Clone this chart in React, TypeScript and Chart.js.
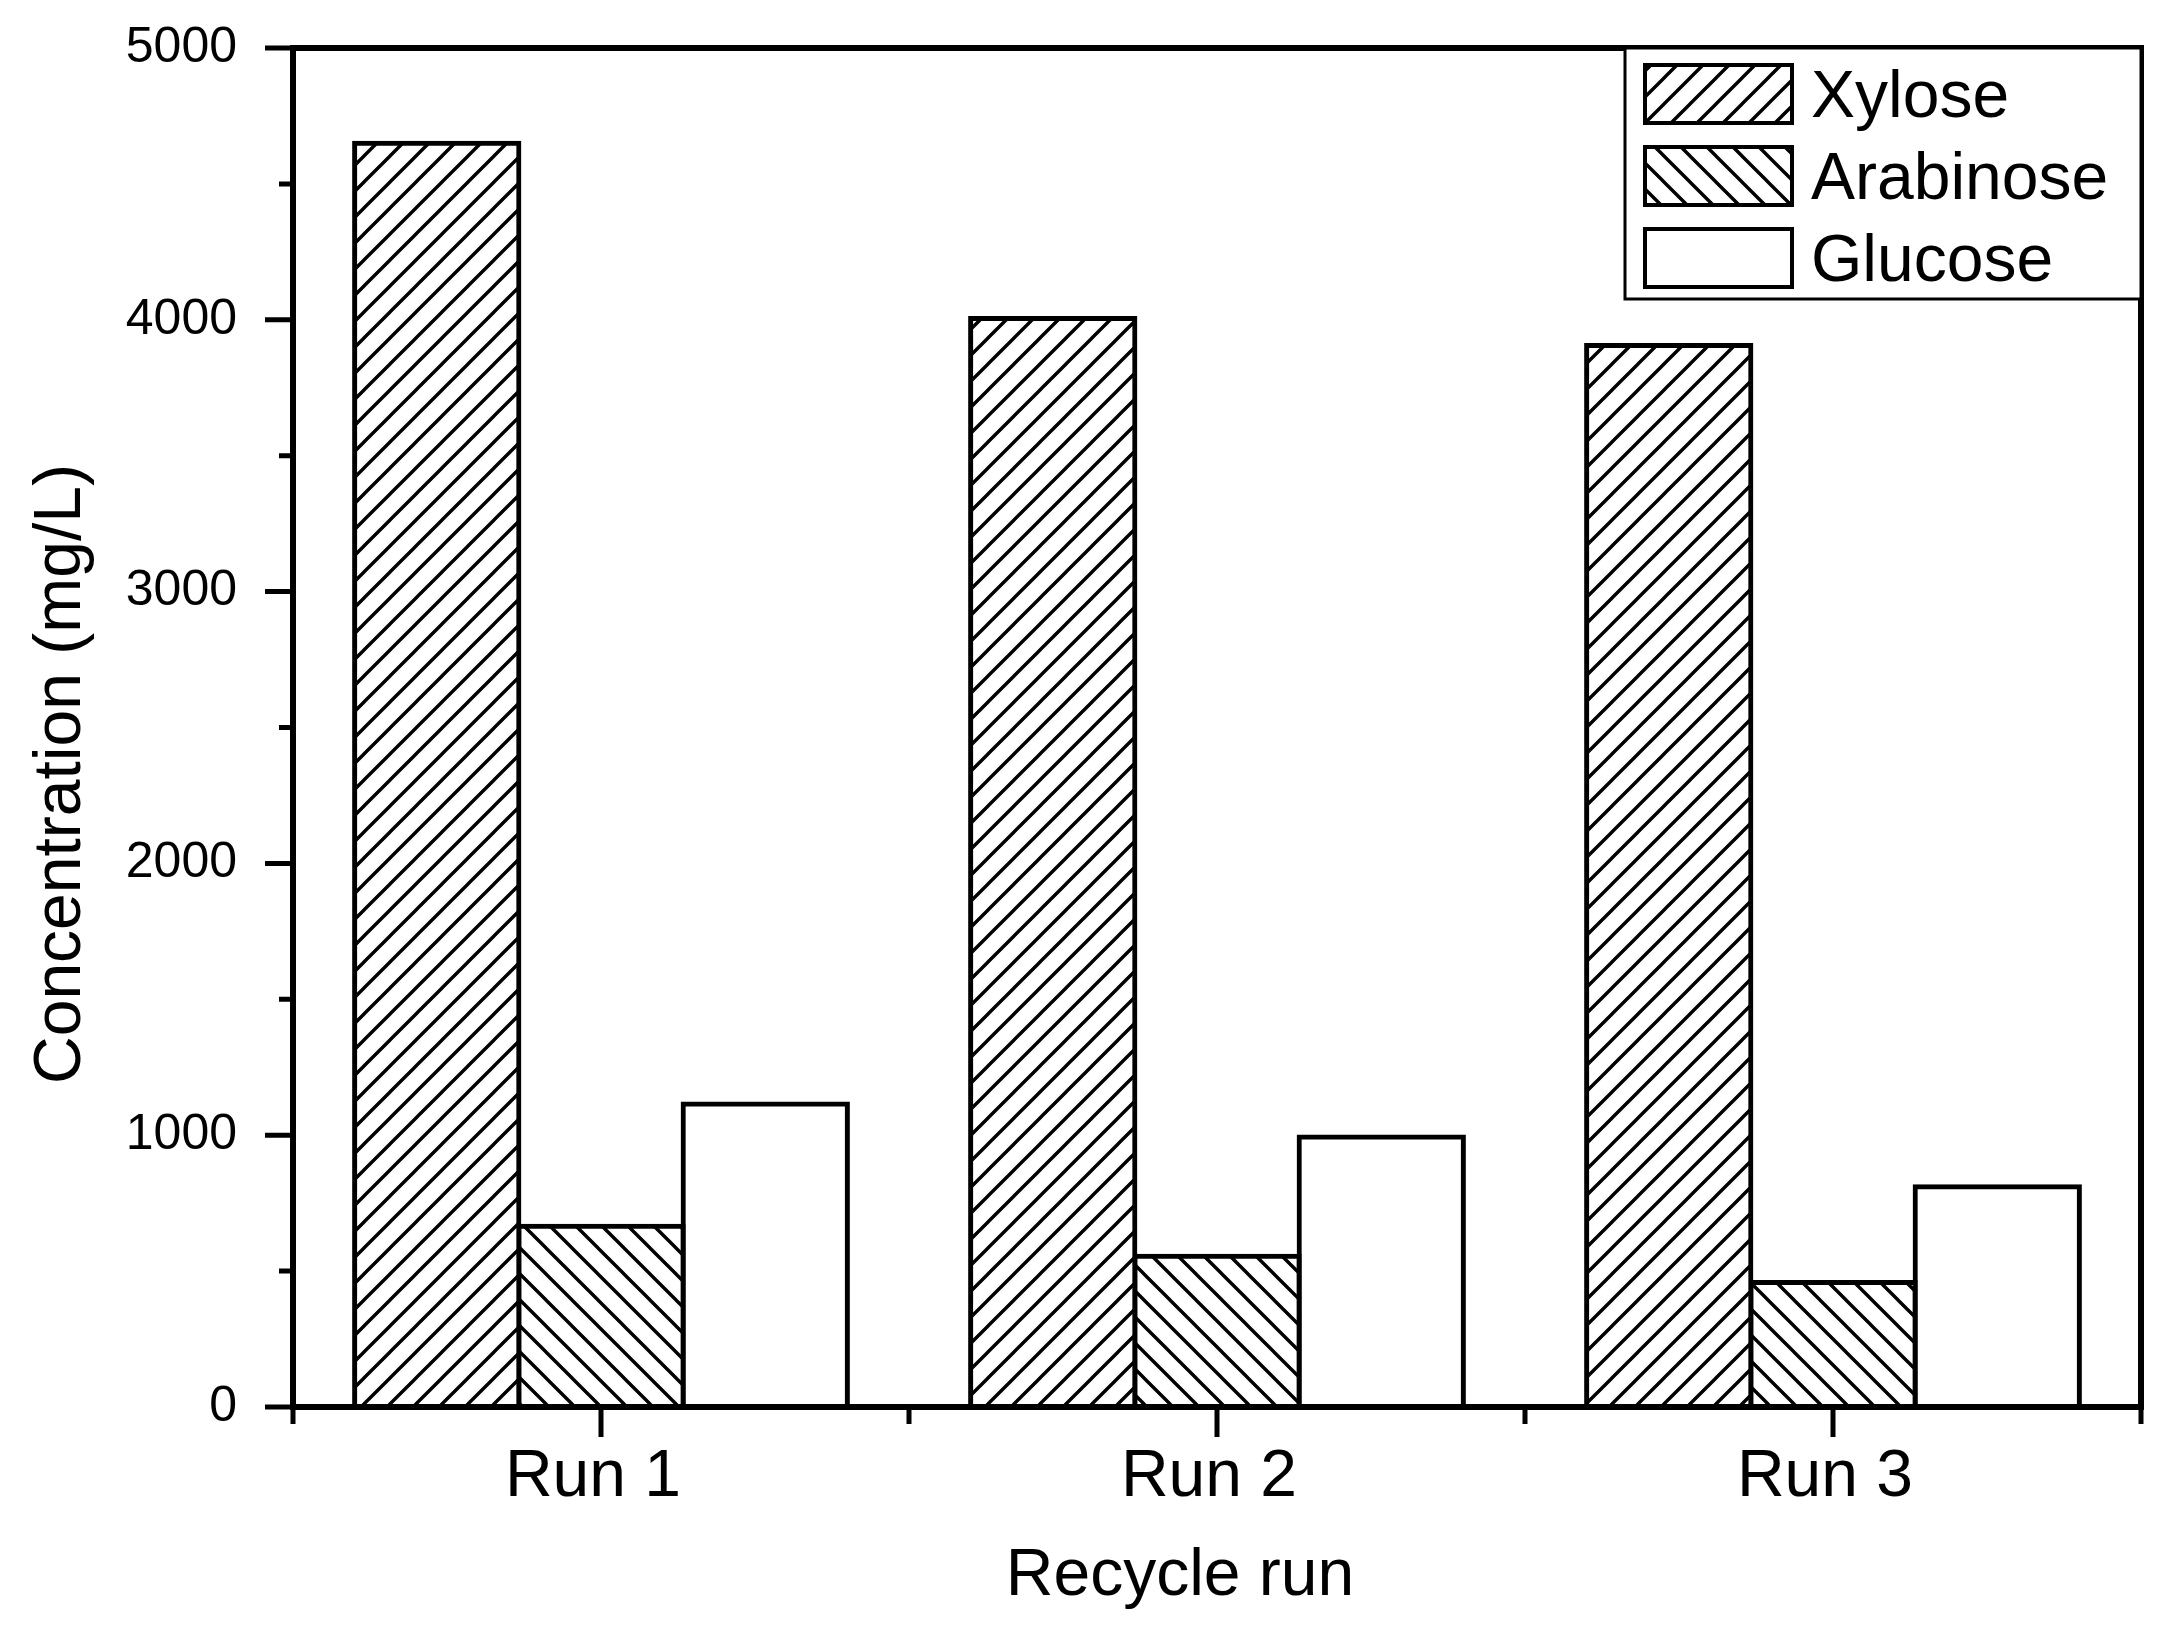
import { Chart, registerables } from 'chart.js'
import { useEffect, useRef } from 'react'

Chart.register(...registerables)

// данные
const runs = ['Run 1', 'Run 2', 'Run 3']
const seriesNames = ['Xylose', 'Arabinose', 'Glucose']
const xylose = [4650, 4005, 3905]
const arabinose = [665, 555, 458]
const glucose = [1115, 993, 810]
const yTicks = [0, 1000, 2000, 3000, 4000, 5000]
const yTitle = 'Concentration (mg/L)'
const xTitle = 'Recycle run'

const W = 2169
const H = 1630
const FONT = '"Liberation Sans", Arial, sans-serif'

// штриховка: 'up' = ///, 'down' = \\\
function hatch(dir: 'up' | 'down' | 'none') {
	const s = 26
	const c = document.createElement('canvas')
	c.width = s
	c.height = s
	const g = c.getContext('2d')!
	g.fillStyle = '#fff'
	g.fillRect(0, 0, s, s)
	if (dir !== 'none') {
		g.strokeStyle = '#000'
		g.lineWidth = 3.4
		g.beginPath()
		for (let k = -1; k <= 2; k++) {
			const c0 = k * s
			if (dir === 'up') {
				g.moveTo(-s, c0 + s)
				g.lineTo(2 * s, c0 - 2 * s)
			} else {
				g.moveTo(-s, c0 - s)
				g.lineTo(2 * s, c0 + 2 * s)
			}
		}
		g.stroke()
	}
	return g.createPattern(c, 'repeat')!
}

// рамка, засечки, подписи осей и легенда
const decor = {
	id: 'decor',
	afterDatasetsDraw(chart: any) {
		const { ctx, chartArea: a, scales } = chart
		const x = scales.x
		const y = scales.y
		ctx.save()
		ctx.strokeStyle = '#000'
		ctx.lineCap = 'butt'

		// засечки Y: большие на 1000, малые на 500
		ctx.lineWidth = 5
		ctx.beginPath()
		for (let v = 0; v <= 5000; v += 500) {
			const py = y.getPixelForValue(v)
			const len = v % 1000 === 0 ? 28 : 14
			ctx.moveTo(a.left - len, py)
			ctx.lineTo(a.left, py)
		}
		// засечки X: большие по центрам, малые по границам категорий
		runs.forEach((_, i) => {
			const px = x.getPixelForValue(i)
			ctx.moveTo(px, a.bottom)
			ctx.lineTo(px, a.bottom + 30)
		})
		for (let i = 0; i <= runs.length; i++) {
			const px = x.getPixelForValue(i - 0.5)
			ctx.moveTo(px, a.bottom)
			ctx.lineTo(px, a.bottom + 17)
		}
		ctx.stroke()

		// рамка
		ctx.lineWidth = 6
		ctx.lineJoin = 'miter'
		ctx.strokeRect(a.left, a.top, a.right - a.left, a.bottom - a.top)

		// подписи осей
		ctx.fillStyle = '#000'
		ctx.font = `66px ${FONT}`
		ctx.textAlign = 'center'
		ctx.textBaseline = 'alphabetic'
		ctx.fillText(xTitle, 1180, 1595)
		ctx.save()
		ctx.translate(80, 774)
		ctx.rotate(-Math.PI / 2)
		ctx.fillText(yTitle, 0, 0)
		ctx.restore()

		// легенда
		const lx = a.right - 516
		const ly = a.top
		ctx.lineWidth = 3
		ctx.fillStyle = '#fff'
		ctx.fillRect(lx, ly, a.right - lx, 251)
		ctx.strokeRect(lx, ly, a.right - lx, 251)
		ctx.font = `66px ${FONT}`
		ctx.textAlign = 'left'
		chart.data.datasets.forEach((ds: any, i: number) => {
			const sy = ly + 17 + i * 82
			ctx.fillStyle = ds.backgroundColor
			ctx.fillRect(lx + 20, sy, 147, 58)
			ctx.lineWidth = 4
			ctx.strokeRect(lx + 20, sy, 147, 58)
			ctx.fillStyle = '#000'
			ctx.fillText(ds.label, lx + 186, sy + 29 + 23)
		})
		ctx.restore()
	}
}

export default function App() {
	const canvasRef = useRef<HTMLCanvasElement | null>(null)

	useEffect(() => {
		document.body.style.margin = '0'
		if (!canvasRef.current) return
		const fills = [hatch('up'), hatch('down'), hatch('none')]
		const values = [xylose, arabinose, glucose]

		const chart = new Chart(canvasRef.current, {
			type: 'bar',
			data: {
				labels: runs,
				datasets: seriesNames.map((name, i) => ({
					label: name,
					data: values[i],
					backgroundColor: fills[i],
					borderColor: '#000',
					// рамка сдвигается наружу, у соседних столбцов она общая
					borderWidth: { top: 5, left: 5, right: 5, bottom: 0 },
					inflateAmount: 2.5,
					borderSkipped: false,
					categoryPercentage: 0.8,
					barPercentage: 1.0
				}))
			},
			options: {
				responsive: false,
				animation: false,
				devicePixelRatio: 1,
				layout: { padding: { top: 48, right: 28, left: 0, bottom: 0 } },
				plugins: {
					legend: { display: false },
					tooltip: { enabled: false }
				},
				scales: {
					x: {
						grid: { display: false, drawTicks: false },
						border: { display: false },
						ticks: {
							color: '#000',
							font: { family: FONT, size: 66 },
							padding: 31,
							labelOffset: -8
						},
						afterFit: (s: any) => {
							s.height = 223
							s.paddingLeft = 0
							s.paddingRight = 0
						}
					},
					y: {
						min: 0,
						max: 5000,
						afterBuildTicks: (s: any) => {
							s.ticks = yTicks.map((v) => ({ value: v }))
						},
						grid: { display: false, drawTicks: false },
						border: { display: false },
						ticks: {
							color: '#000',
							font: { family: FONT, size: 50 },
							padding: 56,
							callback: (v: any) => String(v)
						},
						afterFit: (s: any) => {
							s.width = 293
							s.paddingTop = 0
							s.paddingBottom = 0
						}
					}
				}
			},
			plugins: [decor]
		})

		return () => chart.destroy()
	}, [])

	return (
		<div style={{ width: W, height: H, background: '#fff' }}>
			<canvas
				ref={canvasRef}
				width={W}
				height={H}
				style={{ display: 'block' }}
			/>
		</div>
	)
}
